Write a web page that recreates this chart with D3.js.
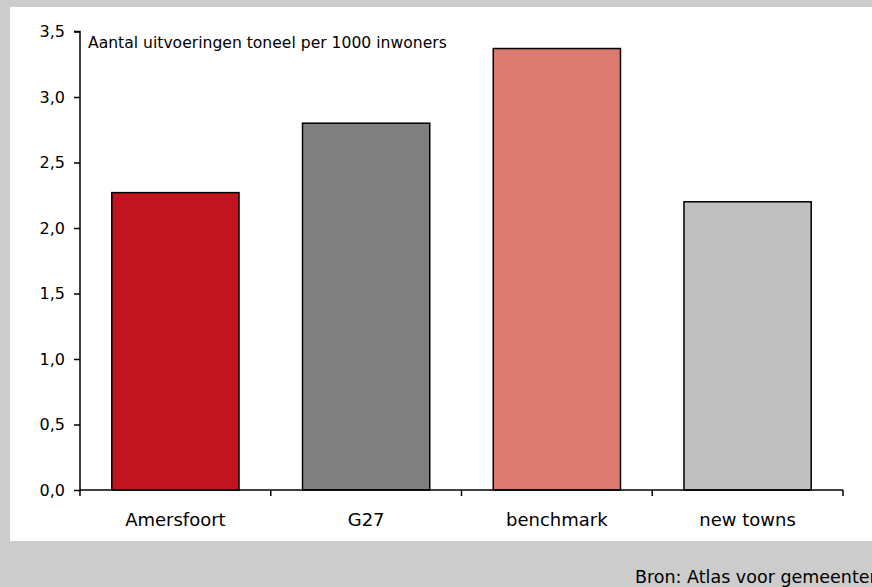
<!DOCTYPE html>
<html><head><meta charset="utf-8">
<script src="https://cdn.jsdelivr.net/npm/d3@7"></script>
<style>html,body{margin:0;padding:0;background:#cccccc;overflow:hidden}svg{display:block}</style>
</head><body>
<script>
const categories = ["Amersfoort", "G27", "benchmark", "new towns"];
const values = [2.27, 2.80, 3.37, 2.20];
const colors = ["#c0141e", "#808080", "#de7b70", "#c0c0c0"];
const yTicks = [0, 0.5, 1.0, 1.5, 2.0, 2.5, 3.0, 3.5];
const title = "Aantal uitvoeringen toneel per 1000 inwoners";
const source = "Bron: Atlas voor gemeenten";

const W = 872, H = 587;
const font = "'DejaVu Sans', sans-serif";
const svg = d3.select("body").append("svg").attr("width", W).attr("height", H);
svg.append("rect").attr("width", W).attr("height", H).attr("fill", "#cccccc");
svg.append("rect").attr("x", 10).attr("y", 7).attr("width", W - 10).attr("height", 534).attr("fill", "#ffffff");

const x0 = 80, x1 = 843, yTop = 31.5, yBot = 490;
const x = d3.scaleBand().domain(categories).range([x0, x1]).paddingInner(0.333).paddingOuter(0.1667);
const y = d3.scaleLinear().domain([0, 3.5]).range([yBot, yTop]);

// bars
svg.append("g").selectAll("rect").data(categories).join("rect")
  .attr("x", d => x(d))
  .attr("y", (d, i) => y(values[i]))
  .attr("width", x.bandwidth())
  .attr("height", (d, i) => yBot - y(values[i]))
  .attr("fill", (d, i) => colors[i])
  .attr("stroke", "#000").attr("stroke-width", 1.5);

// y axis
const yAxis = d3.axisLeft(y).tickValues(yTicks).tickSize(6).tickPadding(9)
  .tickFormat(d => d3.format(".1f")(d).replace(".", ","));
const gy = svg.append("g").attr("transform", `translate(${x0},0)`).call(yAxis);
gy.select(".domain").attr("stroke-width", 1.5).attr("d", `M-6,${yTop}H0V${yBot}`);
gy.selectAll(".tick line").attr("stroke-width", 1.5);
gy.selectAll("text").attr("font-family", font).attr("font-size", 16).attr("fill", "#000");

// x axis with ticks at band boundaries
const gx = svg.append("g").attr("transform", `translate(0,${yBot})`);
gx.append("line").attr("x1", x0).attr("x2", x1).attr("stroke", "#000").attr("stroke-width", 1.5);
const bounds = categories.map(c => x(c) - x.step() * x.paddingInner() / 2).concat([x1]);
bounds[0] = x0;
gx.selectAll("line.tk").data(bounds).join("line").attr("class", "tk")
  .attr("x1", d => d).attr("x2", d => d).attr("y1", 0).attr("y2", 6)
  .attr("stroke", "#000").attr("stroke-width", 1.5);
gx.selectAll("text").data(categories).join("text")
  .attr("x", d => x(d) + x.bandwidth() / 2).attr("y", 36)
  .attr("text-anchor", "middle").attr("font-family", font).attr("font-size", 18)
  .text(d => d);

svg.append("text").attr("x", 88).attr("y", 47.5).attr("font-family", font).attr("font-size", 15.6).text(title);
svg.append("text").attr("x", 635).attr("y", 583).attr("font-family", font).attr("font-size", 17.5).text(source);
</script>
</body></html>
